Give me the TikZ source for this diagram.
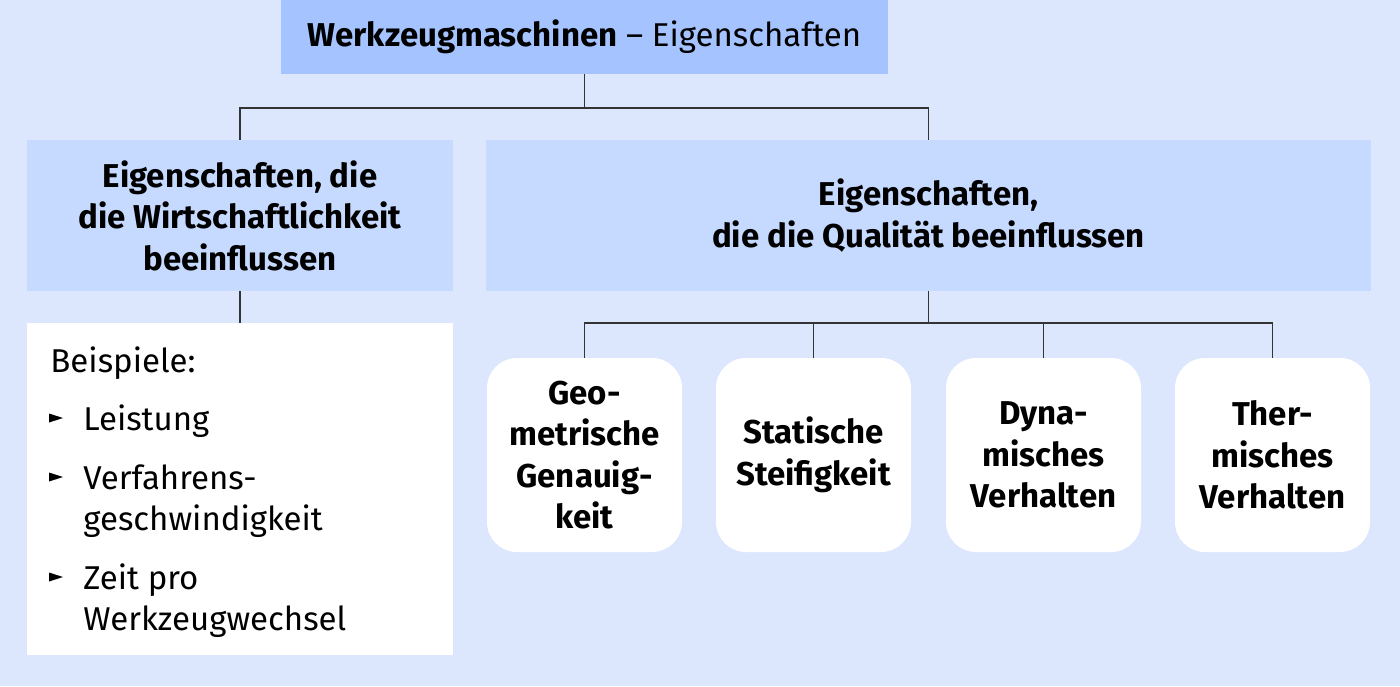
\documentclass[tikz,border=0pt]{standalone}
\usepackage{fontspec}
\setmainfont{Fira Sans}
\usetikzlibrary{positioning}
\definecolor{bgc}{HTML}{DCE7FE}
\definecolor{topc}{HTML}{A4C3FF}
\definecolor{midc}{HTML}{C6DAFF}
\definecolor{linec}{HTML}{333333}
\begin{document}
\begin{tikzpicture}[x=0.5pt,y=-0.5pt,
  txt/.style={font=\fontsize{16.5}{20.5}\selectfont},
  topbox/.style={fill=topc,inner sep=0pt,minimum width=303.5pt,minimum height=37pt,font=\fontsize{16.5}{20.5}\selectfont},
  midbox/.style={fill=midc,inner sep=0pt,minimum height=75.5pt,align=center,font=\bfseries\fontsize{16.5}{20.75}\selectfont},
  listbox/.style={fill=white,inner sep=0pt,minimum width=213pt,minimum height=166pt},
  leafbox/.style={fill=white,rounded corners=15pt,inner sep=0pt,minimum width=97.5pt,minimum height=97pt,align=center,font=\bfseries\fontsize{16.5}{20.75}\selectfont},
  conn/.style={draw=linec,line width=0.75pt},
  bul/.style={fill=black}
]
\fill[bgc] (0,0) rectangle (1400,686);
\useasboundingbox (0,0) rectangle (1400,686);

\node[topbox] (top) at (584.5,37) {\textbf{Werkzeugmaschinen} – Eigenschaften};
\node[midbox,minimum width=213pt] (left) at (240,215.5) {Eigenschaften, die\\die Wirtschaftlichkeit\\beeinflussen};
\node[midbox,minimum width=442.5pt] (right) at (928.5,215.5) {Eigenschaften,\\die die Qualität beeinflussen};
\node[listbox] (list) at (240,489) {};

\node[leafbox] (l1) at (584.5,455) {Geo-\\metrische\\Genauig-\\keit};
\node[leafbox] (l2) at (813.5,455) {Statische\\Steifigkeit};
\node[leafbox] (l3) at (1043.5,455) {Dyna-\\misches\\Verhalten};
\node[leafbox] (l4) at (1272.5,455) {Ther-\\misches\\Verhalten};

\coordinate (j1) at (584.5,108);
\coordinate (j2) at (928.5,323);
\draw[conn] (top.south) -- (j1);
\draw[conn] (j1) -| (left.north);
\draw[conn] (j1) -| (right.north);
\draw[conn] (left.south) -- (list.north);
\draw[conn] (right.south) -- (j2);
\draw[conn] (j2) -| (l1.north);
\draw[conn] (j2) -| (l4.north);
\draw[conn] (l2.north) -- (l2.north |- j2);
\draw[conn] (l3.north) -- (l3.north |- j2);

% list text
\node[txt,anchor=base west,inner sep=0pt] (bsp) at (50,372) {Beispiele:};
\node[txt,anchor=base west,inner sep=0pt] (i1) at (83,430) {Leistung};
\node[txt,anchor=base west,inner sep=0pt] (i2a) at (83,489) {Verfahrens-};
\node[txt,anchor=base west,inner sep=0pt] (i2b) at (83,530) {geschwindigkeit};
\node[txt,anchor=base west,inner sep=0pt] (i3a) at (83,589) {Zeit pro};
\node[txt,anchor=base west,inner sep=0pt] (i3b) at (83,630) {Werkzeugwechsel};
\foreach \yy in {418,477,577}{
  \fill[bul] (49,\yy-4.5) -- (63,\yy) -- (49,\yy+4.5) -- cycle;
}
\end{tikzpicture}
\end{document}
